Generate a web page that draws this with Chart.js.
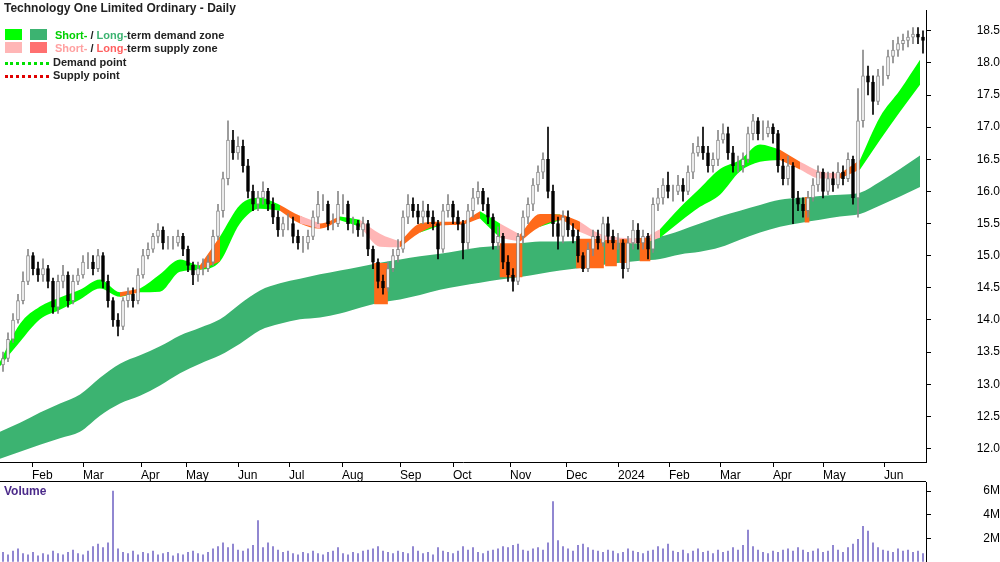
<!DOCTYPE html>
<html>
<head>
<meta charset="utf-8">
<script src="https://cdn.jsdelivr.net/npm/chart.js@4.4.1/dist/chart.umd.min.js"></script>
<style>
  body { margin: 0; background: #fff; font-family: "Liberation Sans", Arial, sans-serif; }
  #wrap { position: relative; width: 1000px; height: 562px; overflow: hidden; }
  #top { position: absolute; left: 0; top: 0; width: 1000px; height: 482px; }
  #bot { position: absolute; left: 0; top: 472px; width: 1000px; height: 100px; }
  .sep { position: absolute; left: 0; top: 481px; width: 926px; height: 1px; background: #000; }
  .title { position: absolute; left: 4px; top: 1px; font-size: 12px; font-weight: bold; color: #222; }
  .leg { position: absolute; left: 5px; font-size: 11px; font-weight: bold; color: #222; height: 12px; line-height: 12px; white-space: nowrap; }
  .sw { display: inline-block; width: 17px; height: 11px; vertical-align: top; margin-right: 8px; }
  .dot { display: inline-block; width: 44px; height: 0; border-top: 3px dotted; vertical-align: middle; margin-right: 4px; }
  .vol { position: absolute; left: 4px; top: 484px; font-size: 12px; font-weight: bold; color: #4b2a8a; }
</style>
</head>
<body>
<div id="wrap">
  <div id="top"><canvas id="priceChart" width="1000" height="482"></canvas></div>
  <div id="bot"><canvas id="volChart" width="1000" height="100"></canvas></div>
  <div class="sep"></div>
  <div class="title">Technology One Limited Ordinary - Daily</div>
  <div class="leg" style="top:29px"><span class="sw" style="background:#00ff00"></span><span class="sw" style="background:#3cb371"></span><span style="color:#00d000">Short-</span> / <span style="color:#3cb371">Long-</span>term demand zone</div>
  <div class="leg" style="top:42px"><span class="sw" style="background:#ffb6b6"></span><span class="sw" style="background:#ff7070"></span><span style="color:#ffa0a0">Short-</span> / <span style="color:#ff6060">Long-</span>term supply zone</div>
  <div class="leg" style="top:56px"><span class="dot" style="border-color:#00e000"></span>Demand point</div>
  <div class="leg" style="top:69px"><span class="dot" style="border-color:#e00000"></span>Supply point</div>
  <div class="vol">Volume</div>
</div>
<script>
// month ticks (x in chart units, roughly pixels)
const monthPos = [32, 83, 141, 186, 238, 289, 342, 400, 453, 510, 566, 618, 669, 720, 773, 823, 884]
const monthLab = ['Feb', 'Mar', 'Apr', 'May', 'Jun', 'Jul', 'Aug', 'Sep', 'Oct', 'Nov', 'Dec', '2024', 'Feb', 'Mar', 'Apr', 'May', 'Jun']
const priceTicks = [12.0, 12.5, 13.0, 13.5, 14.0, 14.5, 15.0, 15.5, 16.0, 16.5, 17.0, 17.5, 18.0, 18.5]

// candles (one every 5 units)
const firstOpen = 13.3
const close = [13.4, 13.7, 14.0, 14.3, 14.6, 15.0, 14.8, 14.7, 14.8, 14.6, 14.2, 14.6, 14.7, 14.3, 14.6, 14.7, 14.9, 14.9, 14.8, 15.0,
    14.6, 14.3, 14.0, 13.9, 14.3, 14.4, 14.3, 14.7, 15.0, 15.1, 15.3, 15.4, 15.2, 15.2, 15.2, 15.3, 15.1, 14.85, 14.7, 14.8,
    14.8, 14.9, 15.3, 15.7, 16.2, 16.8, 16.6, 16.7, 16.4, 16.0, 15.8, 15.9, 16.0, 15.8, 15.6, 15.4, 15.5, 15.5, 15.3, 15.2,
    15.2, 15.3, 15.6, 15.8, 15.8, 15.5, 15.5, 15.8, 15.8, 15.5, 15.5, 15.4, 15.5, 15.1, 14.9, 14.6, 14.5, 14.8, 15.0, 15.1,
    15.6, 15.8, 15.7, 15.6, 15.7, 15.6, 15.5, 15.1, 15.7, 15.8, 15.6, 15.5, 15.2, 15.7, 15.9, 16.0, 15.8, 15.6, 15.2, 15.3,
    14.9, 14.7, 14.6, 15.3, 15.6, 15.8, 16.1, 16.3, 16.5, 16.0, 15.5, 15.3, 15.6, 15.4, 15.3, 15.0, 14.8, 15.1, 15.3, 15.2,
    15.5, 15.3, 15.2, 15.2, 14.8, 15.2, 15.4, 15.2, 15.3, 15.1, 15.8, 15.9, 16.1, 16.0, 16.0, 16.1, 16.0, 16.3, 16.6, 16.7,
    16.6, 16.4, 16.5, 16.8, 16.9, 16.6, 16.4, 16.4, 16.5, 16.9, 17.1, 16.9, 16.9, 17.0, 16.9, 16.4, 16.2, 16.4, 15.9, 15.8,
    15.7, 15.9, 16.1, 16.3, 16.0, 16.2, 16.1, 16.3, 16.2, 16.5, 15.9, 17.1, 17.8, 17.7, 17.4, 17.8, 17.8, 18.1, 18.2, 18.3,
    18.35, 18.4, 18.45, 18.4, 18.35]
const high = [13.5, 13.8, 14.1, 14.4, 14.75, 15.1, 15.05, 14.9, 14.95, 14.85, 14.65, 14.7, 14.85, 14.75, 14.7, 14.8, 15.0, 15.05, 15.0, 15.1,
    15.05, 14.7, 14.35, 14.1, 14.35, 14.5, 14.5, 14.8, 15.1, 15.2, 15.35, 15.5, 15.45, 15.3, 15.3, 15.4, 15.35, 15.15, 14.9, 14.9,
    14.95, 15.0, 15.4, 15.8, 16.3, 17.1, 16.95, 16.85, 16.8, 16.5, 16.1, 16.0, 16.15, 16.05, 15.9, 15.7, 15.6, 15.65, 15.6, 15.4,
    15.3, 15.4, 15.7, 16.0, 15.95, 15.85, 15.65, 16.0, 15.95, 15.85, 15.6, 15.55, 15.6, 15.55, 15.15, 14.95, 14.7, 14.9, 15.1, 15.25,
    15.7, 15.95, 15.9, 15.8, 15.85, 15.8, 15.7, 15.55, 15.8, 15.95, 15.85, 15.7, 15.55, 15.8, 16.05, 16.15, 16.05, 15.9, 15.65, 15.45,
    15.35, 15.0, 14.8, 15.35, 15.7, 15.9, 16.2, 16.4, 16.6, 17.0, 16.1, 15.6, 15.7, 15.7, 15.5, 15.4, 15.05, 15.2, 15.4, 15.4,
    15.6, 15.6, 15.4, 15.35, 15.25, 15.3, 15.55, 15.5, 15.4, 15.35, 15.9, 16.05, 16.2, 16.3, 16.1, 16.25, 16.2, 16.4, 16.75, 16.85,
    17.0, 16.7, 16.6, 16.95, 17.05, 17.0, 16.7, 16.55, 16.6, 17.0, 17.2, 17.15, 17.1, 17.1, 17.05, 16.95, 16.5, 16.55, 16.45, 16.0,
    15.9, 16.0, 16.2, 16.4, 16.35, 16.3, 16.3, 16.45, 16.4, 16.6, 16.55, 17.6, 18.2, 17.95, 17.8, 17.9, 17.95, 18.2, 18.35, 18.4,
    18.45, 18.5, 18.55, 18.55, 18.5]
const low = [13.2, 13.35, 13.65, 13.95, 14.25, 14.55, 14.7, 14.6, 14.6, 14.5, 14.1, 14.1, 14.5, 14.2, 14.25, 14.55, 14.65, 14.8, 14.7, 14.75,
    14.5, 14.2, 13.9, 13.75, 13.85, 14.2, 14.2, 14.25, 14.65, 14.95, 15.05, 15.2, 15.1, 15.1, 15.1, 15.15, 15.0, 14.75, 14.55, 14.6,
    14.7, 14.75, 14.85, 15.25, 15.6, 16.1, 16.5, 16.5, 16.3, 15.9, 15.7, 15.7, 15.8, 15.7, 15.5, 15.3, 15.3, 15.4, 15.2, 15.1,
    15.05, 15.1, 15.25, 15.5, 15.7, 15.4, 15.4, 15.45, 15.65, 15.4, 15.35, 15.3, 15.3, 15.0, 14.8, 14.5, 14.4, 14.45, 14.75, 14.9,
    15.05, 15.5, 15.6, 15.5, 15.5, 15.5, 15.4, 14.95, 15.05, 15.6, 15.5, 15.4, 14.95, 15.1, 15.6, 15.8, 15.7, 15.5, 15.1, 15.1,
    14.8, 14.6, 14.45, 14.55, 15.2, 15.5, 15.7, 16.0, 16.2, 15.9, 15.3, 15.1, 15.2, 15.3, 15.2, 14.9, 14.75, 14.75, 15.0, 15.1,
    15.15, 15.2, 15.1, 15.1, 14.65, 14.75, 15.1, 15.1, 15.1, 14.95, 15.05, 15.7, 15.8, 15.9, 15.85, 15.95, 15.85, 15.95, 16.2, 16.55,
    16.5, 16.3, 16.3, 16.4, 16.75, 16.5, 16.3, 16.3, 16.3, 16.45, 16.8, 16.8, 16.8, 16.85, 16.75, 16.3, 16.1, 16.1, 15.5, 15.7,
    15.6, 15.6, 15.85, 16.0, 15.9, 15.95, 16.0, 16.05, 16.1, 16.15, 15.8, 15.6, 17.0, 17.5, 17.2, 17.35, 17.65, 17.75, 18.0, 18.1,
    18.2, 18.25, 18.3, 18.3, 18.15]
const volume = [0.8, 0.6, 0.9, 1.1, 0.7, 0.6, 0.8, 0.5, 0.7, 0.6, 0.9, 0.7, 0.6, 0.8, 1.0, 0.7, 0.6, 0.9, 1.3, 1.5,
    1.2, 1.6, 6.0, 1.1, 0.8, 0.7, 0.9, 0.6, 0.8, 0.7, 0.9, 0.6, 0.7, 0.8, 0.5, 0.7, 0.6, 0.8, 0.9, 0.7,
    0.6, 0.8, 1.1, 1.3, 1.6, 1.2, 1.5, 1.0, 0.9, 1.1, 1.4, 3.5, 1.2, 1.6, 1.3, 1.0, 0.8, 0.9, 0.7, 0.6,
    0.8, 0.7, 0.9, 0.7, 0.6, 0.8, 0.9, 1.2, 0.7, 0.6, 0.8, 0.7, 0.9, 1.0, 1.1, 1.3, 0.9, 0.8, 0.7, 0.9,
    0.8, 0.7, 1.3, 0.9, 0.7, 0.8, 0.6, 1.2, 0.9, 0.8, 0.7, 0.9, 1.3, 1.0, 1.2, 0.8, 0.7, 0.9, 1.0, 1.1,
    1.3, 1.2, 1.4, 1.5, 1.0, 0.9, 1.1, 1.2, 1.0, 1.6, 5.1, 1.8, 1.3, 1.1, 0.9, 1.4, 1.5, 1.2, 1.0, 0.9,
    0.8, 1.0, 0.9, 0.7, 0.8, 1.1, 0.9, 0.8, 0.7, 0.9, 1.0, 1.3, 1.1, 1.5, 0.9, 0.8, 1.0, 0.7, 0.9, 1.1,
    0.8, 0.9, 0.7, 1.0, 0.8, 0.9, 1.2, 1.0, 1.4, 2.7, 1.3, 1.0, 0.8, 0.7, 0.9, 0.8, 1.0, 1.1, 0.9, 1.2,
    1.0, 0.8, 0.9, 1.1, 0.8, 0.9, 1.4, 1.0, 0.8, 1.2, 1.5, 1.9, 3.0, 2.6, 1.6, 1.2, 1.0, 0.9, 0.8, 1.1,
    0.9, 1.0, 0.8, 0.9, 0.7]

// long-term demand zone, sampled every 20 units
const ltTop = [12.26, 12.40, 12.56, 12.70, 12.84, 13.10, 13.32, 13.45, 13.59, 13.76, 13.88, 14.01, 14.25, 14.46, 14.57, 14.64,
    14.71, 14.77, 14.83, 14.89, 14.94, 14.99, 15.03, 15.08, 15.13, 15.16, 15.19, 15.22, 15.22, 15.23, 15.23, 15.25,
    15.27, 15.30, 15.39, 15.50, 15.61, 15.70, 15.79, 15.87, 15.90, 15.93, 15.95, 15.98, 16.15, 16.35, 16.56]
const ltBot = [11.84, 11.95, 12.06, 12.16, 12.26, 12.51, 12.70, 12.82, 12.98, 13.17, 13.32, 13.45, 13.63, 13.84, 13.94, 14.01,
    14.04, 14.10, 14.19, 14.27, 14.32, 14.39, 14.47, 14.53, 14.58, 14.63, 14.67, 14.72, 14.77, 14.81, 14.85, 14.89,
    14.92, 14.95, 15.02, 15.06, 15.13, 15.25, 15.36, 15.45, 15.51, 15.56, 15.61, 15.65, 15.78, 15.92, 16.07]
// short-term zone, same sampling; kind: d = demand, s = supply, o = supply edge
const stTop = [13.35, 13.94, 14.21, 14.35, 14.47, 14.63, 14.43, 14.49, 14.71, 14.94, 14.85, 15.30, 15.79, 15.90, 15.79, 15.62,
    15.50, 15.61, 15.56, 15.34, 15.22, 15.50, 15.53, 15.53, 15.69, 15.50, 15.33, 15.65, 15.64, 15.53, 15.34, 15.28,
    15.27, 15.41, 15.75, 16.05, 16.35, 16.49, 16.73, 16.65, 16.46, 16.31, 16.28, 16.49, 17.16, 17.58, 18.05]
const stBot = [13.28, 13.66, 14.01, 14.16, 14.32, 14.49, 14.36, 14.43, 14.44, 14.75, 14.78, 14.91, 15.50, 15.73, 15.70, 15.50,
    15.42, 15.55, 15.45, 15.14, 15.13, 15.36, 15.47, 15.48, 15.58, 15.28, 15.22, 15.45, 15.55, 15.37, 15.25, 15.20,
    15.19, 15.28, 15.53, 15.76, 15.95, 16.31, 16.46, 16.49, 16.34, 16.20, 16.20, 16.34, 16.80, 17.24, 17.66]
const stKind = 'oddddddodddoddd' + 'osodssodoodsodo' + 'ssssddddddossod' + 'ddd'

// long-term supply columns
const supX = [381, 511, 590, 611, 624, 645, 807]
const supW = [13, 22, 27, 11, 8, 10, 4]
const supLo = [14.25, 14.67, 14.81, 14.84, 14.89, 14.92, 15.52]
const supHi = [14.88, 15.19, 15.26, 15.24, 15.25, 15.27, 15.91]

const candleX = close.map((c, i) => 3 + 5 * i)
const zoneX = ltTop.map((v, i) => i * 20)
const open = close.map((c, i) => i === 0 ? firstOpen : close[i - 1])
const isUp = close.map((c, i) => c >= open[i])

const font = { family: 'Liberation Sans', size: 12 }
const fixWidth = (s) => { s.width = 74 }

const datasets = []
// candles on top
datasets.push({
    type: 'bar', order: 0, grouped: false, barThickness: 3,
    data: candleX.map((x, i) => ({ x, y: [open[i], close[i]] })),
    backgroundColor: isUp.map(u => u ? '#ffffff' : '#000000'),
    borderColor: isUp.map(u => u ? '#888888' : '#000000'),
    borderWidth: 1, borderSkipped: false,
})
datasets.push({
    type: 'bar', order: 1, grouped: false, barThickness: 1,
    data: candleX.map((x, i) => ({ x, y: [low[i], high[i]] })),
    backgroundColor: isUp.map(u => u ? '#888888' : '#000000'),
})
supX.forEach((x, i) => datasets.push({
    type: 'bar', order: 5, grouped: false, barThickness: supW[i],
    data: [{ x, y: [supLo[i], supHi[i]] }], backgroundColor: '#ff6a1a',
}))
const band = (bot, top, color, order) => {
    datasets.push({ type: 'line', order, data: bot, borderWidth: 0, pointRadius: 0, fill: false, cubicInterpolationMode: 'monotone' })
    datasets.push({ type: 'line', order, data: top, borderWidth: 0, pointRadius: 0, fill: '-1', backgroundColor: color, cubicInterpolationMode: 'monotone' })
}
band(zoneX.map((x, i) => ({ x, y: ltBot[i] })), zoneX.map((x, i) => ({ x, y: ltTop[i] })), '#3cb371', 20)
const kindColor = { d: '#00ff00', s: '#ffb6b6', o: '#ff6a1a' }
for (const k of ['s', 'o', 'd']) {
    const keep = (i) => stKind[i] === k || stKind[i + 1] === k
    band(zoneX.map((x, i) => ({ x, y: keep(i) ? stBot[i] : null })),
        zoneX.map((x, i) => ({ x, y: keep(i) ? stTop[i] : null })), kindColor[k], 10)
}

new Chart(document.getElementById('priceChart'), {
    data: { datasets },
    options: {
        responsive: false, animation: false, maintainAspectRatio: false,
        layout: { padding: 0, autoPadding: false },
        plugins: { legend: { display: false }, tooltip: { enabled: false } },
        scales: {
            x: {
                type: 'linear', min: 0, max: 926, offset: false,
                afterFit: (s) => { s.height = 20 },
                afterBuildTicks: (s) => { s.ticks = monthPos.map(v => ({ value: v })) },
                ticks: { font, color: '#000', align: 'start', padding: 1, maxRotation: 0, autoSkip: false,
                    callback: (v) => monthLab[monthPos.indexOf(v)] },
                grid: { display: true, drawOnChartArea: false, tickLength: 5, color: '#000', offset: false },
                border: { color: '#000' },
            },
            y: {
                position: 'right', min: 11.79, max: 18.82,
                afterFit: fixWidth,
                afterBuildTicks: (s) => { s.ticks = priceTicks.map(v => ({ value: v })) },
                ticks: { font, color: '#000', crossAlign: 'far', callback: (v) => v.toFixed(1) },
                grid: { display: true, drawOnChartArea: false, tickLength: 5, color: '#000' },
                border: { color: '#000' },
            },
        },
    },
})

new Chart(document.getElementById('volChart'), {
    type: 'bar',
    data: { datasets: [{ data: candleX.map((x, i) => ({ x, y: volume[i] })), backgroundColor: '#7a6fc8', barThickness: 1 }] },
    options: {
        responsive: false, animation: false, maintainAspectRatio: false,
        layout: { padding: 0, autoPadding: false },
        plugins: { legend: { display: false }, tooltip: { enabled: false } },
        scales: {
            x: { type: 'linear', min: 0, max: 926, offset: false, display: false },
            y: {
                position: 'right', min: 0, max: 6.75,
                afterFit: fixWidth,
                afterBuildTicks: (s) => { s.ticks = [2, 4, 6].map(v => ({ value: v })) },
                ticks: { font, color: '#000', crossAlign: 'far', callback: (v) => v + 'M' },
                grid: { display: true, drawOnChartArea: false, tickLength: 5, color: '#000' },
                border: { color: '#000' },
            },
        },
    },
})
</script>
</body>
</html>
